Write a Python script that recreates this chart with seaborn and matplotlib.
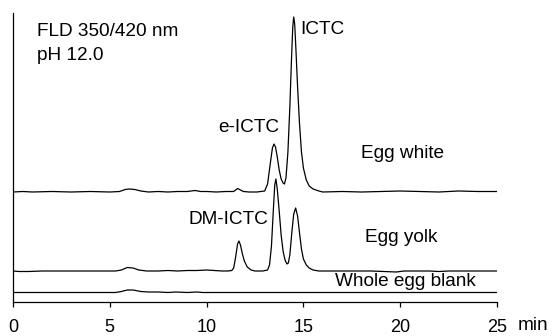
# Fluorescence chromatograms of egg white, egg yolk and blank (FLD 350/420 nm, pH 12.0)

import matplotlib
matplotlib.use("Agg")
import matplotlib.pyplot as plt
import pandas as pd
import seaborn as sns

# (retention time in min, detector signal above baseline)
egg_white = [
    (0, 0), (0.5, 0.5), (1.0, 0), (2.0, 0.5), (3.0, 0), (4.0, 0.5), (5.0, 0),
    (5.5, 0.5), (5.8, 2.5), (6.0, 3), (6.3, 2.5), (6.6, 1), (7.0, 0), (7.5, 0.5),
    (8.0, 0), (8.5, 0.5), (9.0, 0.5), (9.4, 1.5), (9.7, 0.5), (10.0, 0.5),
    (10.5, 0), (11.0, 0.5), (11.4, 0.5), (11.6, 3.5), (11.75, 2), (11.9, 0.5),
    (12.2, 0), (12.6, 0), (13.0, 1), (13.15, 8), (13.3, 30), (13.4, 44),
    (13.48, 48), (13.56, 45), (13.65, 35), (13.75, 22), (13.85, 13), (13.95, 9),
    (14.02, 8), (14.1, 14), (14.2, 40), (14.3, 85), (14.38, 130), (14.45, 165),
    (14.5, 175), (14.55, 168), (14.62, 140), (14.7, 105), (14.8, 68), (14.9, 40),
    (15.0, 24), (15.15, 12), (15.3, 6), (15.5, 3), (15.8, 1), (16.0, 0),
    (17.0, 0.5), (18.0, 0), (19.0, 0.5), (20.0, 1), (21.0, 0.5), (22.0, 0),
    (23.0, 1), (24.0, 0.5), (25.0, 0.5),
]
egg_yolk = [
    (0, 0), (0.3, -0.5), (0.8, -0.5), (1.5, 0), (2.5, 0), (3.5, 0), (4.5, 0),
    (5.3, 0), (5.6, 1), (5.9, 3.5), (6.2, 3), (6.5, 1), (6.9, 0), (7.5, 0),
    (8.0, 0.5), (8.5, 0), (9.0, 0.5), (9.5, 0.5), (10.0, 1), (10.4, 0.5),
    (10.8, 0), (11.1, 0), (11.3, 0.5), (11.4, 3), (11.5, 14), (11.6, 27),
    (11.67, 30), (11.75, 26), (11.85, 17), (11.95, 10), (12.1, 4), (12.3, 1),
    (12.5, 0), (12.9, 0), (13.15, 1), (13.25, 6), (13.35, 25), (13.45, 62),
    (13.52, 86), (13.58, 92), (13.65, 82), (13.75, 60), (13.85, 36), (13.95, 20),
    (14.05, 11), (14.15, 7), (14.22, 8), (14.3, 16), (14.4, 38), (14.5, 57),
    (14.6, 63), (14.7, 55), (14.8, 38), (14.9, 22), (15.0, 12), (15.15, 6),
    (15.3, 3), (15.5, 1), (15.8, 0), (17.0, 0), (18.5, 0), (19.8, -1),
    (20.2, 0), (21.5, 0), (22.0, -0.5), (22.5, 0), (24.0, 0), (25.0, 0),
]
egg_blank = [
    (0, 0), (5.3, 0), (5.6, 1), (5.9, 2.5), (6.2, 2.5), (6.6, 1), (7.0, 0.5),
    (7.5, 0.5), (8.0, 0), (8.4, 0.5), (9.0, 0), (9.5, 0.5), (9.8, 0), (12.0, 0),
    (15.0, 0), (20.0, 0), (25.0, 0),
]

trace_names = ["Egg white", "Egg yolk", "Whole egg blank"]
trace_offsets = [110, 31, 9.5]

sns.set_style("white")
plt.rcParams['font.family'] = ['Liberation Sans', 'DejaVu Sans']
plt.rcParams['text.color'] = 'black'

fig = plt.figure(figsize=(5.52, 3.36), dpi=100)
ax = fig.add_axes([13 / 552, 34 / 336, 484 / 552, 289 / 336])

# draw each chromatogram shifted up by its offset
for name, trace, offset in zip(trace_names, [egg_white, egg_yolk, egg_blank], trace_offsets):
    df = pd.DataFrame(trace, columns=['Time', 'Signal'])
    df['Signal'] = df['Signal'] + offset
    sns.lineplot(data=df, x='Time', y='Signal', color='black', linewidth=0.9,
                 estimator=None, sort=False, ax=ax)

ax.set_xlim(0, 25)
ax.set_ylim(0, 289)
ax.set_xticks([0, 5, 10, 15, 20, 25])
ax.set_yticks([])
ax.set_xlabel('')
ax.set_ylabel('')
for side in ['top', 'right']:
    ax.spines[side].set_visible(False)
for side in ['left', 'bottom']:
    ax.spines[side].set_linewidth(0.9)
    ax.spines[side].set_color('black')
ax.tick_params(axis='x', direction='out', length=3.6, width=0.9, pad=8.5,
               labelsize=13, colors='black', bottom=True)

# annotations
fs = 13.7
ax.text(1.24, 270, 'FLD 350/420 nm', fontsize=fs, va='center', ha='left')
ax.text(1.24, 247, 'pH 12.0', fontsize=fs, va='center', ha='left')
ax.text(14.82, 272, 'ICTC', fontsize=fs, va='center', ha='left')
ax.text(10.59, 174, 'e-ICTC', fontsize=fs, va='center', ha='left')
ax.text(9.04, 83, 'DM-ICTC', fontsize=fs, va='center', ha='left')
ax.text(17.95, 149, 'Egg white', fontsize=fs, va='center', ha='left')
ax.text(18.2, 64, 'Egg yolk', fontsize=fs, va='center', ha='left')
ax.text(16.63, 20.3, 'Whole egg blank', fontsize=fs, va='center', ha='left')
ax.text(26.08, -23, 'min', fontsize=fs, va='center', ha='left', clip_on=False)

fig.savefig('out.png', dpi=100)
